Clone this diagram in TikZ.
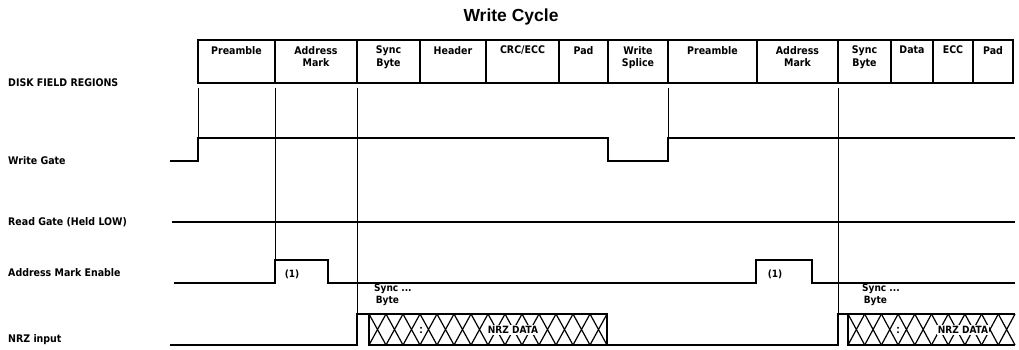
\documentclass[tikz,border=0pt]{standalone}
\usepackage{fontspec}
\setmainfont{Liberation Sans}
\newfontfamily\condfont{DejaVu Sans Condensed}
\usetikzlibrary{positioning}

\begin{document}
\begin{tikzpicture}[x=1pt, y=-1pt,
  field/.style={draw, line width=2.8pt},
  fieldtext/.style={anchor=north, align=center, inner sep=0pt,
    font=\condfont\bfseries\fontsize{10.5}{12.5}\selectfont},
  rowlabel/.style={anchor=west, inner sep=0pt,
    font=\condfont\bfseries\fontsize{10.5}{12}\selectfont},
  smalltext/.style={inner sep=0pt, font=\condfont\bfseries\fontsize{10}{12}\selectfont},
  signal/.style={line width=2.8pt, line join=miter},
  guide/.style={line width=0.9pt},
  hatch/.style={line width=1.2pt},
  blank/.style={fill=white, inner sep=1pt}
]
  \useasboundingbox (0,0) rectangle (1019,349);

  % Title
  \node[font=\bfseries\fontsize{17.5}{20}\selectfont] (title) at (511,17) {Write Cycle};

  % Row labels
  \node[rowlabel] (lfield) at (8,83) {DISK FIELD REGIONS};
  \node[rowlabel] (lwg) at (8,161) {Write Gate};
  \node[rowlabel] (lrg) at (8,222) {Read Gate (Held LOW)};
  \node[rowlabel] (lame) at (8,273) {Address Mark Enable};
  \node[rowlabel] (lnrz) at (8,340) {NRZ input};

  % Disk field regions
  \foreach \l/\r/\t [count=\i] in {198/275/Preamble, 275/357/{Address\\Mark},
      357/420/{Sync\\Byte}, 420/486/Header, 486/559/{CRC/ECC}, 559/608/Pad,
      608/668/{Write\\Splice}, 668/757/Preamble, 757/838/{Address\\Mark},
      838/891/{Sync\\Byte}, 891/933/Data, 933/973/ECC, 973/1013/Pad}
  {
    \draw[field] (\l,40) rectangle (\r,83);
    \node[fieldtext] (field\i) at ({(\l+\r)/2},46) {\t};
  }

  % Guide lines
  \draw[guide] (198,88) -- (198,138);
  \draw[guide] (275,88) -- (275,260);
  \draw[guide] (357,88) -- (357,314);
  \draw[guide] (668,88) -- (668,138);
  \draw[guide] (838,88) -- (838,314);

  % Write Gate
  \draw[signal] (170,161) -- (198,161) -- (198,138) -- (608,138) -- (608,161)
    -- (668,161) -- (668,138) -- (1015,138);

  % Read Gate
  \draw[signal] (172,222) -- (1015,222);

  % Address Mark Enable
  \draw[signal] (174,283) -- (275,283) -- (275,260) -- (328,260) -- (328,283)
    -- (756,283) -- (756,260) -- (812,260) -- (812,283) -- (1015,283);
  \node[smalltext] (am1) at (292,274) {(1)};
  \node[smalltext] (am2) at (775,274) {(1)};

  % NRZ input
  \foreach \k in {0,...,13}
    \draw[hatch] ({369+17*\k},314) -- ({386+17*\k},345)
                 ({369+17*\k},345) -- ({386+17*\k},314);
  \foreach \k in {0,...,9}
    \draw[hatch] ({848+16.7*\k},314) -- ({864.7+16.7*\k},345)
                 ({848+16.7*\k},345) -- ({864.7+16.7*\k},314);
  \draw[signal] (170,345) -- (357,345) -- (357,314) -- (607,314) -- (607,345)
    -- (838,345) -- (838,314) -- (1015,314);
  \draw[signal] (369,314) -- (369,345) -- (607,345);
  \draw[signal] (848,314) -- (848,345) -- (1015,345);
  \node[smalltext, blank, font=\bfseries\fontsize{12}{12}\selectfont] (dots1) at (421,330) {:};
  \node[smalltext, blank, font=\bfseries\fontsize{12}{12}\selectfont] (dots2) at (898,330) {:};
  \node[smalltext, blank] (data1) at (513,330) {NRZ DATA};
  \node[smalltext, blank] (data2) at (963,330) {NRZ DATA};
  \node[smalltext, anchor=north west, align=left] (sync1) at (374,284) {Sync ...\\\,Byte};
  \node[smalltext, anchor=north west, align=left] (sync2) at (862,284) {Sync ...\\\,Byte};
\end{tikzpicture}
\end{document}
